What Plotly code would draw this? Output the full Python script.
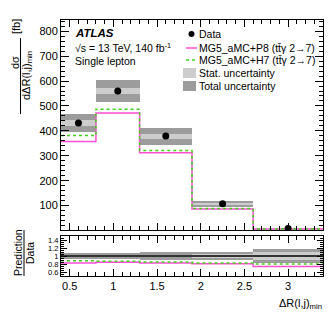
import plotly.graph_objects as go

# ---------------- data ----------------
bin_edges = [0.4, 0.8, 1.3, 1.9, 2.6, 3.4]
data_xsec = [432, 560, 379, 107, 8]
data_stat = [11, 12, 10, 5, 0.8]
data_total = [37, 45, 34, 12, 1.4]
pred_p8 = [357, 472, 312, 86, 5.9]
pred_h7 = [381, 487, 321, 88, 6.4]
y_ticks_main = [100, 200, 300, 400, 500, 600, 700, 800]
y_ticks_ratio = [0.6, 0.8, 1.0, 1.2, 1.4]
y_ticklabels_ratio = ["0.6", "0.8", "1", "1.2", "1.4"]
x_ticks = [0.5, 1, 1.5, 2, 2.5, 3]
x_ticklabels = ["0.5", "1", "1.5", "2", "2.5", "3"]

# ---------------- derived ----------------
centers = [(a + b) / 2 for a, b in zip(bin_edges[:-1], bin_edges[1:])]
widths = [b - a for a, b in zip(bin_edges[:-1], bin_edges[1:])]
stat_rel = [s / d for s, d in zip(data_stat, data_xsec)]
tot_rel = [t / d for t, d in zip(data_total, data_xsec)]
r_p8 = [p / d for p, d in zip(pred_p8, data_xsec)]
r_h7 = [p / d for p, d in zip(pred_h7, data_xsec)]

def step(v):
    return list(v) + [v[-1]]

FONT = "Liberation Sans, Arial, sans-serif"
PINK = "#ff4fd6"
GREEN = "#3fd21a"
TOT = "#9c9c9c"
STAT = "#cdcdcd"

W_, H_ = 332, 319
L, R, T, B = 53, 315, 12, 268
PW, PH = R - L, B - T

def px(x):
    return (x - L) / PW

def py(y):
    return (B - y) / PH

fig = go.Figure()

# main panel
fig.add_trace(go.Bar(x=centers, y=[2 * t for t in data_total],
                     base=[d - t for d, t in zip(data_xsec, data_total)],
                     width=widths, marker=dict(color=TOT, line=dict(width=0)),
                     xaxis="x2", yaxis="y2", showlegend=False))
fig.add_trace(go.Bar(x=centers, y=[2 * s for s in data_stat],
                     base=[d - s for d, s in zip(data_xsec, data_stat)],
                     width=widths, marker=dict(color=STAT, line=dict(width=0)),
                     xaxis="x2", yaxis="y2", showlegend=False))
fig.add_trace(go.Scatter(x=bin_edges, y=step(pred_p8), mode="lines",
                         line=dict(color=PINK, width=1.5, shape="hv"),
                         xaxis="x2", yaxis="y2", showlegend=False))
fig.add_trace(go.Scatter(x=bin_edges, y=step(pred_h7), mode="lines",
                         line=dict(color=GREEN, width=1.5, shape="hv", dash="dot"),
                         xaxis="x2", yaxis="y2", showlegend=False))
fig.add_trace(go.Scatter(x=centers, y=data_xsec, mode="markers",
                         marker=dict(color="black", size=7),
                         xaxis="x2", yaxis="y2", showlegend=False))

# ratio panel
fig.add_trace(go.Bar(x=centers, y=[2 * t for t in tot_rel],
                     base=[1 - t for t in tot_rel],
                     width=widths, marker=dict(color=TOT, line=dict(width=0)),
                     xaxis="x", yaxis="y", showlegend=False))
fig.add_trace(go.Bar(x=centers, y=[2 * s for s in stat_rel],
                     base=[1 - s for s in stat_rel],
                     width=widths, marker=dict(color=STAT, line=dict(width=0)),
                     xaxis="x", yaxis="y", showlegend=False))
fig.add_trace(go.Scatter(x=bin_edges, y=step([1.0] * len(data_xsec)), mode="lines",
                         line=dict(color="black", width=1.5, shape="hv"),
                         xaxis="x", yaxis="y", showlegend=False))
fig.add_trace(go.Scatter(x=bin_edges, y=step(r_p8), mode="lines",
                         line=dict(color=PINK, width=1.5, shape="hv"),
                         xaxis="x", yaxis="y", showlegend=False))
fig.add_trace(go.Scatter(x=bin_edges, y=step(r_h7), mode="lines",
                         line=dict(color=GREEN, width=1.5, shape="hv", dash="dot"),
                         xaxis="x", yaxis="y", showlegend=False))

axis_common = dict(showline=True, linecolor="black", linewidth=1, mirror="allticks",
                   ticks="inside", tickcolor="black", showgrid=False, zeroline=False,
                   tickfont=dict(family=FONT, size=11, color="black"))

fig.update_layout(
    width=W_, height=H_,
    margin=dict(l=L, r=W_ - R, t=T, b=H_ - B),
    paper_bgcolor="white", plot_bgcolor="rgba(0,0,0,0)",
    barmode="overlay", bargap=0,
    font=dict(family=FONT, color="black"),
    xaxis=dict(domain=[0, 1], range=[bin_edges[0], bin_edges[-1]], anchor="y",
               tickvals=x_ticks, ticktext=x_ticklabels, ticklen=7,
               minor=dict(dtick=0.1, ticklen=4, ticks="inside", tickcolor="black"),
               **axis_common),
    yaxis=dict(domain=[0, py(228)], range=[0.5, 1.5], anchor="x",
               tickvals=y_ticks_ratio, ticktext=y_ticklabels_ratio, ticklen=6,
               minor=dict(dtick=0.05, ticklen=3, ticks="inside", tickcolor="black"),
               **{**axis_common, "tickfont": dict(family=FONT, size=7.5, color="black")}),
    xaxis2=dict(domain=[0, 1], range=[bin_edges[0], bin_edges[-1]], anchor="y2",
                matches="x", showticklabels=False, tickvals=x_ticks, ticklen=7,
                minor=dict(dtick=0.1, ticklen=4, ticks="inside", tickcolor="black"),
                **axis_common),
    yaxis2=dict(domain=[py(222), 1], range=[2, 845], anchor="x2",
                tickvals=y_ticks_main, ticklen=8,
                minor=dict(dtick=20, ticklen=4, ticks="inside", tickcolor="black"),
                **axis_common),
)

ann = []
shapes = []

def text(x, y, s, size=10.5, xanchor="left", angle=0, **kw):
    ann.append(dict(x=px(x), y=py(y), xref="paper", yref="paper", text=s,
                    showarrow=False, xanchor=xanchor, yanchor="middle",
                    textangle=angle, font=dict(family=FONT, size=size, color="black"),
                    borderpad=0, **kw))

# ATLAS label
text(66, 25, "<b><i>ATLAS</i></b>", size=11.5)
text(66, 39, "√s = 13 TeV, 140 fb<sup>-1</sup>", size=10.5)
text(66, 53, "Single lepton", size=10.5)

# legend
shapes.append(dict(type="circle", xref="paper", yref="paper", x0=px(180.5), x1=px(186.5),
                   y0=py(23), y1=py(29), line=dict(width=0), fillcolor="black"))
shapes.append(dict(type="line", xref="paper", yref="paper", x0=px(178), x1=px(189),
                   y0=py(40), y1=py(40), line=dict(color=PINK, width=1.5)))
shapes.append(dict(type="line", xref="paper", yref="paper", x0=px(178), x1=px(189),
                   y0=py(52), y1=py(52), line=dict(color=GREEN, width=1.5, dash="dot")))
shapes.append(dict(type="rect", xref="paper", yref="paper", x0=px(175), x1=px(188),
                   y0=py(60), y1=py(70), line=dict(width=0), fillcolor=STAT))
shapes.append(dict(type="rect", xref="paper", yref="paper", x0=px(175), x1=px(188),
                   y0=py(73), y1=py(83), line=dict(width=0), fillcolor=TOT))
text(190, 26, "Data")
text(190, 40, "MG5_aMC+P8 (tt\u0304γ 2→7)")
text(190, 52, "MG5_aMC+H7 (tt\u0304γ 2→7)")
text(190, 65, "Stat. uncertainty")
text(190, 78, "Total uncertainty")

# y-axis title (main)
text(7, 55, "dσ", size=11, xanchor="center", angle=-90)
shapes.append(dict(type="line", xref="paper", yref="paper", x0=px(12.5), x1=px(12.5),
                   y0=py(30), y1=py(106), line=dict(color="black", width=1)))
text(19, 68, "dΔR(l,j)<sub>min</sub>", size=11, xanchor="center", angle=-90)
text(8, 19, "[fb]", size=11, xanchor="center", angle=-90)

# y-axis title (ratio)
text(10, 245, "Prediction", size=10.5, xanchor="center", angle=-90)
shapes.append(dict(type="line", xref="paper", yref="paper", x0=px(16), x1=px(16),
                   y0=py(222), y1=py(268), line=dict(color="black", width=1)))
text(22, 245, "Data", size=10.5, xanchor="center", angle=-90)

# x-axis title
text(315, 296, "ΔR(l,j)<sub>min</sub>", size=11, xanchor="right")

fig.update_layout(annotations=ann, shapes=shapes)
fig.write_html("out.html")
